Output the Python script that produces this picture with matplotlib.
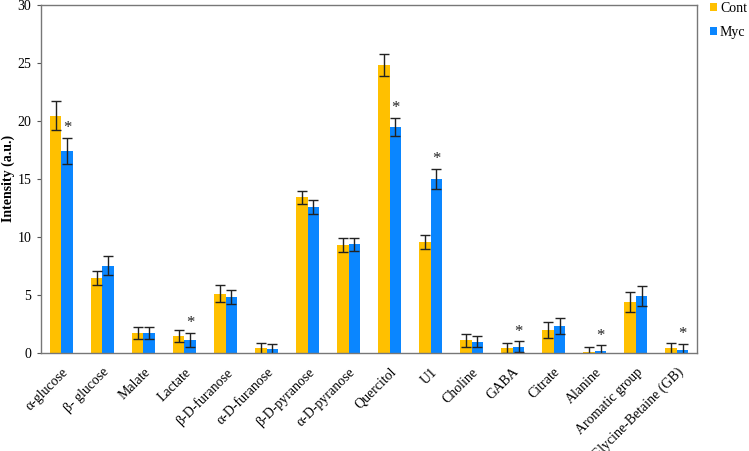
import matplotlib
matplotlib.use("Agg")
import matplotlib.pyplot as plt
import numpy as np

categories = ["α-glucose", "β- glucose", "Malate", "Lactate", "β-D-furanose",
              "α-D-furanose", "β-D-pyranose", "α-D-pyranose", "Quercitol", "U1",
              "Choline", "GABA", "Citrate", "Alanine", "Aromatic group",
              "Glycine-Betaine (GB)"]

cont = [20.45, 6.5, 1.7, 1.45, 5.12, 0.4, 13.42, 9.28, 24.8, 9.54,
        1.1, 0.43, 1.95, 0.05, 4.4, 0.4]
cont_err = [1.25, 0.6, 0.5, 0.5, 0.7, 0.45, 0.55, 0.6, 0.95, 0.6,
            0.55, 0.45, 0.7, 0.45, 0.85, 0.5]
myc = [17.4, 7.53, 1.7, 1.15, 4.83, 0.35, 12.56, 9.35, 19.48, 15.0,
       0.98, 0.55, 2.33, 0.18, 4.94, 0.3]
myc_err = [1.15, 0.8, 0.5, 0.6, 0.6, 0.45, 0.6, 0.6, 0.75, 0.85,
           0.5, 0.45, 0.65, 0.48, 0.85, 0.5]
significant = [True, False, False, True, False, False, False, False, True, True,
               False, True, False, True, False, True]

plt.rcParams['font.family'] = ["Liberation Serif", "TeX Gyre Termes", "DejaVu Serif"]

fig = plt.figure(figsize=(7.49, 4.51), dpi=100)
ax = fig.add_axes([0.0547, 0.2173, 0.876, 0.772])

x = np.arange(len(categories))
w = 0.29
err_kw = dict(ecolor="#222222", elinewidth=1.0, capsize=3.5, capthick=1.0)
ax.bar(x - w / 2, cont, w, yerr=cont_err, color="#FFC000", label="Cont", error_kw=err_kw)
ax.bar(x + w / 2, myc, w, yerr=myc_err, color="#0A86FF", label="Myc", error_kw=err_kw)

for i, sig in enumerate(significant):
    if sig:
        ax.text(x[i] + w / 2, myc[i] + myc_err[i] + 0.15, "*", ha="center", va="bottom",
                fontsize=12, color="#222222")

ax.set_xlim(-0.5, len(categories) - 0.5)
ax.set_ylim(0, 30)
ax.set_yticks(np.arange(0, 31, 5))
ax.set_xticks(x)
ax.set_xticklabels(categories, rotation=45, ha="right", rotation_mode="anchor",
                   fontsize=10)
ax.tick_params(axis="x", length=0, pad=9)
ax.tick_params(axis="y", length=3, labelsize=10, color="#555555", pad=4)
ax.set_ylabel("Intensity (a.u.)", fontweight="bold", fontsize=10, labelpad=2)
for s in ax.spines.values():
    s.set_color("#777777")
    s.set_linewidth(1.0)

ax.legend(loc="upper left", bbox_to_anchor=(1.02, 1.008), frameon=False, fontsize=10,
          borderpad=0, borderaxespad=0, handlelength=0.5, handleheight=0.5,
          handletextpad=0.2, labelspacing=0.8)

fig.savefig("out.png", dpi=100)
